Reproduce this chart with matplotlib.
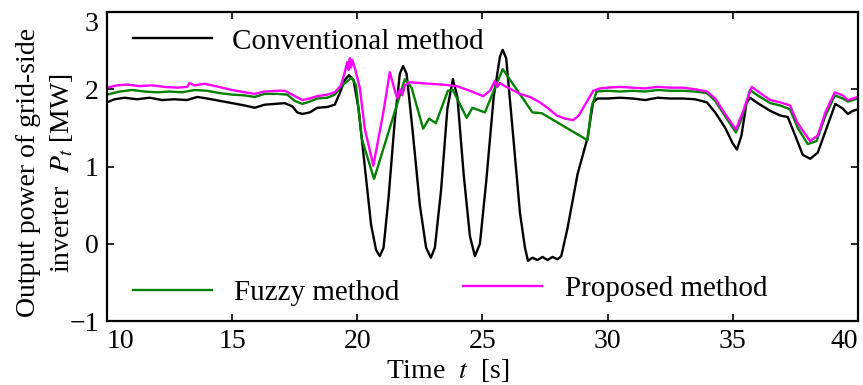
import matplotlib
matplotlib.use("Agg")
import matplotlib.pyplot as plt

plt.rcParams["font.family"] = ["Liberation Serif", "DejaVu Serif"]
plt.rcParams["mathtext.fontset"] = "stix"

# Conventional method (black)
t_conv = [10.0, 10.3, 10.7, 11.2, 11.7, 12.2, 12.7, 13.2, 13.6, 14.0, 14.5, 15.0,
          15.5, 15.9, 16.3, 16.7, 17.1, 17.4, 17.6, 17.8, 18.1, 18.4, 18.8, 19.1,
          19.3, 19.5, 19.67, 19.85, 20.05, 20.3, 20.55, 20.75, 20.9, 21.05, 21.25,
          21.5, 21.7, 21.83, 21.97, 22.2, 22.5, 22.75, 22.94, 23.1, 23.35, 23.6,
          23.82, 24.0, 24.25, 24.5, 24.7, 24.9, 25.15, 25.45, 25.7, 25.81, 25.95,
          26.2, 26.5, 26.7, 26.82, 27.0, 27.2, 27.4, 27.6, 27.8, 28.0, 28.15, 28.4,
          28.8, 29.2, 29.42, 29.6, 30.0, 30.5, 31.0, 31.5, 32.0, 32.5, 33.0, 33.5,
          33.97, 34.3, 34.7, 35.0, 35.17, 35.35, 35.55, 35.69, 36.0, 36.5, 36.9,
          37.2, 37.5, 37.8, 38.1, 38.4, 38.7, 39.1, 39.4, 39.6, 39.8, 40.0]
p_conv = [1.83, 1.87, 1.89, 1.87, 1.89, 1.86, 1.87, 1.86, 1.90, 1.88, 1.85, 1.82,
          1.79, 1.76, 1.80, 1.81, 1.82, 1.78, 1.70, 1.68, 1.70, 1.76, 1.77, 1.80,
          1.95, 2.12, 2.18, 2.12, 1.75, 1.00, 0.25, -0.08, -0.16, -0.05, 0.60,
          1.60, 2.20, 2.30, 2.20, 1.50, 0.50, -0.05, -0.18, -0.05, 0.70, 1.75,
          2.13, 1.90, 0.90, 0.10, -0.16, 0.00, 0.80, 1.90, 2.42, 2.51, 2.40,
          1.50, 0.40, -0.05, -0.22, -0.18, -0.21, -0.17, -0.21, -0.17, -0.20, -0.16, 0.20,
          0.90, 1.37, 1.83, 1.88, 1.88, 1.89, 1.88, 1.86, 1.89, 1.88, 1.88, 1.87,
          1.83, 1.70, 1.50, 1.30, 1.22, 1.40, 1.82, 1.89, 1.82, 1.72, 1.66,
          1.64, 1.40, 1.15, 1.10, 1.18, 1.45, 1.81, 1.75, 1.68, 1.72, 1.74]

# Fuzzy method (green)
t_fuzzy = [10.0, 10.5, 11.0, 11.5, 12.0, 12.5, 13.0, 13.5, 14.0, 14.5, 15.0, 15.5,
           15.9, 16.3, 16.8, 17.2, 17.5, 17.8, 18.1, 18.4, 18.8, 19.1, 19.4, 19.78,
           19.95, 20.18, 20.67, 21.9, 22.17, 22.63, 22.87, 23.14, 23.62, 23.82,
           24.37, 24.6, 25.1, 25.81, 27.0, 27.37, 29.2, 29.36, 29.56, 30.0, 30.5,
           31.0, 31.5, 32.0, 32.5, 33.0, 33.5, 33.97, 34.3, 34.7, 35.13, 35.4,
           35.69, 36.0, 36.5, 36.9, 37.29, 37.6, 38.0, 38.35, 38.7, 39.08, 39.4,
           39.6, 40.0]
p_fuzzy = [1.93, 1.97, 1.99, 1.97, 1.96, 1.97, 1.96, 1.99, 1.98, 1.95, 1.93, 1.92,
           1.90, 1.94, 1.94, 1.93, 1.85, 1.81, 1.84, 1.88, 1.89, 1.93, 2.05, 2.15,
           2.05, 1.36, 0.84, 2.13, 2.02, 1.49, 1.62, 1.56, 1.98, 1.99,
           1.63, 1.76, 1.70, 2.26, 1.70, 1.69, 1.34, 1.76, 1.97, 1.98, 1.97,
           1.98, 1.97, 1.99, 1.98, 1.98, 1.97, 1.95, 1.85, 1.65, 1.44, 1.65,
           1.99, 1.92, 1.82, 1.79, 1.74, 1.50, 1.29, 1.33, 1.65, 1.92, 1.88,
           1.84, 1.88]

# Proposed method (magenta)
t_prop = [10.0, 10.4, 10.8, 11.3, 11.8, 12.3, 12.8, 13.2, 13.3, 13.5, 13.9, 14.2,
          14.6, 15.0, 15.5, 15.9, 16.3, 16.8, 17.1, 17.4, 17.8, 18.1, 18.4, 18.8,
          19.1, 19.35, 19.5, 19.6, 19.65, 19.7, 19.75, 19.8, 19.9, 20.0, 20.1,
          20.3, 20.64, 21.03, 21.3, 21.4, 21.5, 21.6, 21.7, 21.8, 21.9, 22.1,
          22.5, 22.9, 23.4, 23.97, 24.5, 25.03, 25.3, 25.5, 25.6, 25.7, 25.9,
          26.5, 26.9, 27.3, 27.6, 27.97, 28.3, 28.63, 28.85, 29.03, 29.43, 29.7,
          30.0, 30.5, 31.0, 31.5, 32.0, 32.5, 33.0, 33.5, 33.97, 34.3, 34.7,
          35.13, 35.4, 35.76, 36.1, 36.5, 36.9, 37.29, 37.6, 38.09, 38.4, 38.7,
          39.08, 39.4, 39.6, 40.0]
p_prop = [2.02, 2.05, 2.06, 2.04, 2.05, 2.03, 2.02, 2.03, 2.08, 2.05, 2.07, 2.05,
          2.02, 1.99, 1.96, 1.94, 1.97, 1.98, 1.98, 1.93, 1.86, 1.88, 1.91, 1.93,
          1.96, 2.05, 2.22, 2.35, 2.25, 2.40, 2.28, 2.38, 2.28, 2.15, 2.02,
          1.49, 1.01, 1.68, 2.22, 2.10, 1.98, 1.88, 2.00, 1.92, 2.05, 2.09,
          2.08, 2.07, 2.06, 2.04, 1.98, 1.91, 1.98, 2.11, 2.03, 2.08, 2.04,
          1.94, 1.90, 1.83, 1.76, 1.66, 1.62, 1.60, 1.66, 1.76, 1.98, 2.01,
          2.02, 2.03, 2.02, 2.01, 2.03, 2.02, 2.02, 2.00, 1.97, 1.88, 1.68,
          1.48, 1.70, 2.03, 1.95, 1.86, 1.83, 1.79, 1.56, 1.33, 1.40, 1.70,
          1.96, 1.92, 1.86, 1.90]

x_ticks = [10, 15, 20, 25, 30, 35, 40]
y_ticks = [-1, 0, 1, 2, 3]

fig = plt.figure(figsize=(8.63, 3.85), dpi=100)
ax = fig.add_axes([0.124, 0.166, 0.870, 0.803])

l_conv, = ax.plot(t_conv, p_conv, color="black", lw=1.7)
l_fuzzy, = ax.plot(t_fuzzy, p_fuzzy, color="#008000", lw=1.7)
l_prop, = ax.plot(t_prop, p_prop, color="#ff00ff", lw=1.7)

ax.set_xlim(10, 40)
ax.set_ylim(-1, 3)
ax.set_xticks(x_ticks)
ax.set_yticks(y_ticks)
ax.tick_params(direction="in", top=True, right=True, length=5, width=1.2,
               labelsize=20, pad=6)
for s in ax.spines.values():
    s.set_linewidth(1.6)

# end labels pulled inwards as in the original
xl = ax.get_xticklabels()
xl[0].set_horizontalalignment("left")
xl[-1].set_horizontalalignment("right")
yl = ax.get_yticklabels()
yl[-1].set_verticalalignment("top")

# legends are split in three pieces like the original
leg_kw = dict(frameon=False, loc="center left", borderpad=0, borderaxespad=0,
              handlelength=2.7, fontsize=21)
lg1 = ax.legend(handles=[l_conv], labels=["Conventional method"],
                bbox_to_anchor=(0.035, 0.905), handletextpad=0.7, **leg_kw)
ax.add_artist(lg1)
lg2 = ax.legend(handles=[l_fuzzy], labels=["Fuzzy method"],
                bbox_to_anchor=(0.035, 0.09), handletextpad=0.75, **leg_kw)
ax.add_artist(lg2)
ax.legend(handles=[l_prop], labels=["Proposed method"],
          bbox_to_anchor=(0.474, 0.105), handletextpad=0.8, **leg_kw)

ax.set_xlabel("Time  $t$  [s]", fontsize=20)
ax.xaxis.set_label_coords(0.453, -0.115)
ax.set_ylabel("Output power of grid-side\ninverter  $P_t$ [MW]", fontsize=20,
              linespacing=1.35)
ax.yaxis.set_label_coords(-0.042, 0.48)

fig.savefig("out.png", dpi=100)
